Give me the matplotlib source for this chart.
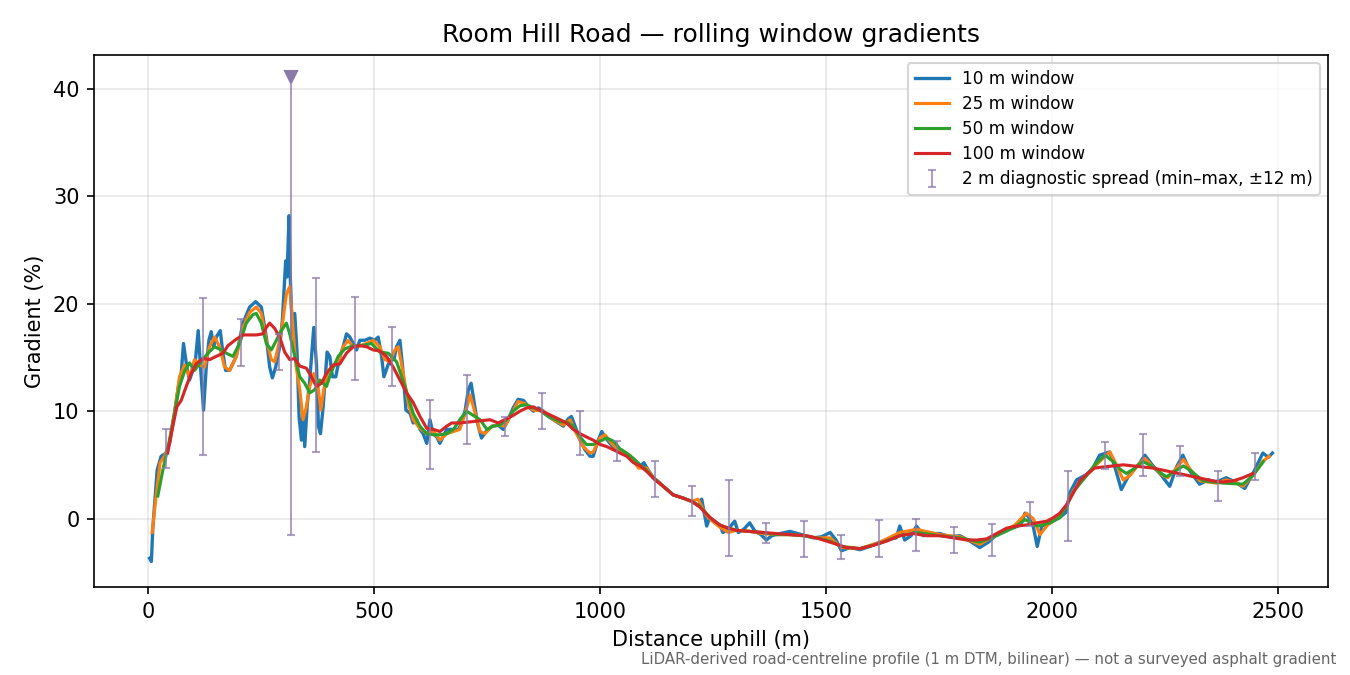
import matplotlib
matplotlib.use("Agg")
import matplotlib.pyplot as plt

# distances (m) and gradients (%), per window length
d10 = [4, 8, 11, 20.7, 29.5, 40.6, 48, 59, 68.7, 73.9, 79, 86.4, 92.3, 99.7, 105.6, 111.5,
       116.7, 123.3, 129.3, 135.2, 140.3, 145.5, 151.4, 160.3, 166.2, 172.1, 181, 195.7,
       210.5, 225.3, 238.6, 251.1, 262.2, 269.6, 275.5, 282.9, 291.7, 297.7, 305, 308,
       312.4, 315.4, 319.8, 325, 330.2, 334.6, 339.8, 343.4, 347.1, 352.3, 358.2, 367.1,
       373, 377.4, 381.9, 387.8, 396.6, 402.5, 408.5, 415.8, 423.2, 432.1, 439.5, 446.9,
       454.2, 461.6, 469, 480.1, 491.2, 502.2, 509.6, 517, 522.2, 529.6, 535.5, 544.3,
       550.3, 557.6, 563.6, 571, 580, 587, 595, 602, 609, 617, 624, 631, 639, 646, 653,
       661, 676, 687, 694, 702, 709, 715, 721, 729, 738, 748, 761, 775, 786, 797, 808, 819,
       831, 842, 853, 864, 875, 886, 897, 908, 919, 930, 937, 945, 956, 967, 978, 985, 996,
       1004, 1011, 1022, 1033, 1044, 1059, 1074, 1088, 1097, 1107, 1118, 1130, 1140, 1162,
       1184, 1203, 1217, 1225, 1236, 1243, 1255, 1265, 1272, 1285, 1298, 1306, 1318, 1331,
       1343, 1356, 1368, 1380, 1398, 1420, 1446, 1472, 1490, 1509, 1522, 1534, 1553, 1575,
       1597, 1619, 1641, 1655, 1663, 1674, 1688, 1700, 1715, 1733, 1752, 1774, 1796, 1818,
       1840, 1859, 1877, 1899, 1918, 1930, 1940, 1947, 1958, 1967, 1977, 1995, 2017, 2031,
       2039, 2054, 2076, 2090, 2105, 2127, 2138, 2153, 2168, 2194, 2205, 2223, 2242, 2260,
       2275, 2289, 2305, 2326, 2345, 2363, 2385, 2405, 2426, 2444, 2466, 2478, 2487]
g10 = [-3.7, -4.0, -1.0, 4.5, 5.8, 6.1, 7.0, 9.8, 12.6, 13.5, 16.3, 14.1, 12.9, 13.8, 14.8, 17.5,
       14.1, 10.1, 14.1, 16.6, 17.4, 16.0, 16.9, 17.5, 15.4, 13.8, 13.8, 15.1,
       18.2, 19.7, 20.2, 19.7, 16.9, 14.1, 13.1, 14.1, 16.0, 18.5, 24.0, 22.5,
       28.2, 22.2, 17.2, 19.1, 15.4, 9.5, 7.3, 9.8, 6.7, 10.4, 12.9, 17.8,
       14.4, 8.6, 7.9, 10.4, 15.5, 15.1, 13.2, 13.2, 14.8, 16.0, 17.2, 16.9,
       16.3, 15.7, 16.6, 16.6, 16.8, 16.6, 16.9, 15.1, 13.2, 14.1, 14.8, 14.8,
       16.0, 16.6, 14.1, 10.1, 9.8, 8.9, 9.2, 8.3, 7.9, 7.0, 9.2, 7.9, 7.6, 7.0, 7.6,
       8.3, 8.3, 8.3, 8.9, 10.1, 12.0, 12.6, 11.0, 8.9, 7.5, 8.1, 8.6, 8.7, 8.3, 9.2, 10.3, 11.1,
       11.0, 10.4, 10.0, 10.3, 10.0, 9.5, 9.2, 8.9, 8.6, 9.3, 9.5, 8.6, 7.3, 6.4, 5.8, 5.8, 7.3,
       8.1, 7.6, 7.0, 6.5, 6.2, 5.9, 5.5, 4.8, 5.2, 4.5, 3.8, 3.4, 3.0, 2.2,
       1.9, 1.6, 1.2, 1.8, -0.7, 0.1, -0.4, -0.6, -1.3, -0.9, -0.25, -1.3, -1.0, -0.4,
       -1.2, -1.5, -2.0, -1.6, -1.4, -1.2, -1.5, -1.8, -1.7, -1.3, -2.0, -3.0, -2.7, -2.9,
       -2.6, -2.2, -1.9, -1.8, -0.7, -2.0, -1.6, -0.7, -1.6, -1.4, -1.4, -1.7, -1.6, -2.1,
       -2.7, -2.2, -1.5, -1.0, -0.8, -0.6, 0.5, 0.2, -0.7, -2.6, -0.7, -0.4, 0.1, 0.6,
       2.4, 3.6, 4.1, 4.7, 5.9, 6.2, 4.9, 2.7, 3.9, 5.2, 5.9, 4.9, 4.0, 3.0,
       4.8, 5.9, 4.4, 3.2, 3.6, 3.4, 3.8, 3.4, 2.8, 4.2, 6.1, 5.7, 6.1]

d25 = [9.6, 18.5, 27.3, 36.9, 48, 59, 70.2, 81.2, 92.3, 103.4, 114.5, 125.6, 136.6, 147.7,
       158.8, 169.9, 181, 195.7, 210.5, 225.3, 240, 251.1, 262.2, 273.3, 280.7, 291.7,
       299.1, 306.5, 313.9, 319.8, 327.2, 336.1, 343.4, 350.8, 358.2, 367.1, 376.7, 382.6,
       389.2, 398.8, 409.9, 421, 432.1, 443.2, 454.2, 469, 483.8, 498.6, 513.3, 524.4,
       535.5, 546.6, 554, 565, 576.1, 587, 602, 617, 632, 646, 661, 676, 690, 702, 713, 724,
       735, 746, 761, 775, 790, 805, 819, 834, 853, 875, 897, 919, 934, 948, 963, 978, 985,
       1000, 1011, 1026, 1044, 1066, 1085, 1103, 1118, 1140, 1162, 1184, 1203, 1217, 1235,
       1250, 1265, 1284, 1302, 1331, 1360, 1391, 1420, 1450, 1479, 1509, 1534, 1575, 1619,
       1663, 1700, 1752, 1796, 1840, 1877, 1918, 1943, 1958, 1973, 1990, 2017, 2032, 2047,
       2076, 2098, 2117, 2128, 2142, 2157, 2172, 2190, 2205, 2223, 2245, 2256, 2275, 2290,
       2305, 2327, 2363, 2385, 2410, 2422, 2444, 2465, 2480]
g25 = [-1.3, 2.1, 5.2, 5.8, 7.0, 9.8, 13.2, 14.3, 13.2, 14.8, 14.3, 14.1, 16.0, 16.9,
       16.0, 14.1, 13.8, 15.1, 17.8, 19.2, 19.7, 19.1, 16.6, 14.8, 14.6, 16.6,
       18.5, 20.9, 21.6, 18.5, 14.4, 12.0, 9.2, 10.4, 12.3, 13.5, 12.3, 10.1,
       12.0, 13.8, 14.1, 14.6, 16.0, 16.6, 16.0, 16.1, 16.3, 16.6, 16.0, 14.8,
       14.6, 15.7, 16.0, 13.5, 10.7, 9.2, 8.4, 7.9, 8.1, 7.3, 7.9, 8.1, 8.3, 9.8, 11.5, 9.8,
       8.1, 7.9, 8.6, 8.7, 8.6, 9.8, 10.9, 10.7, 10.1, 10.0, 9.2, 8.7, 9.2, 7.9, 6.7, 6.1, 6.2,
       7.5, 7.8, 7.0, 6.2, 5.9, 4.7, 4.7, 3.8, 3.0, 2.2, 1.9, 1.6, 1.8, 0.3,
       -0.3, -0.8, -1.3, -1.1, -1.2, -1.4, -1.5, -1.5, -1.6, -1.8, -1.8, -2.7, -2.8, -2.2,
       -1.3, -1.0, -1.5, -1.7, -2.4, -1.5, -0.6, 0.5, 0.0, -1.5, -0.6, 0.2, 1.2, 2.6,
       4.0, 5.0, 5.8, 6.2, 5.0, 3.6, 4.0, 5.0, 5.6, 4.8, 4.0, 3.8, 4.7, 5.5,
       4.6, 3.5, 3.3, 3.6, 3.3, 3.0, 4.0, 5.3, 5.8]

d50 = [22.2, 33.2, 48, 59, 70.2, 81.2, 92.3, 103.4, 118, 133, 147.7, 162.5, 173.6, 188.3,
       203, 217.9, 232.6, 240, 251.1, 262.2, 273.3, 284.4, 295.4, 306.5, 313.9, 325,
       336.1, 347.1, 358.2, 369.3, 380.4, 395.2, 406.3, 421, 435.8, 454.2, 472.7, 495,
       513.3, 531.8, 550.3, 568.7, 587, 602, 617, 632, 646, 661, 676, 690, 705, 720, 735,
       750, 764, 779, 794, 808, 823, 838, 853, 867, 882, 897, 912, 926, 941, 956, 970, 985,
       1000, 1015, 1030, 1044, 1059, 1074, 1089, 1103, 1118, 1140, 1162, 1184, 1203, 1220,
       1243, 1265, 1284, 1302, 1331, 1360, 1391, 1420, 1450, 1479, 1509, 1534, 1575, 1619,
       1663, 1700, 1752, 1796, 1840, 1877, 1918, 1940, 1958, 1969, 1995, 2017, 2032, 2047,
       2076, 2098, 2117, 2135, 2150, 2164, 2180, 2201, 2220, 2245, 2253, 2275, 2290, 2305,
       2334, 2378, 2422, 2444, 2467]
g50 = [2.1, 4.5, 7.3, 9.8, 12.3, 13.7, 14.5, 13.8, 14.6, 15.4, 16.0, 15.7, 15.4, 15.1,
       16.3, 18.2, 19.0, 19.1, 18.2, 16.3, 15.7, 16.6, 17.5, 18.2, 17.2, 15.1,
       13.2, 12.6, 11.7, 12.0, 12.9, 12.3, 13.7, 15.1, 15.8, 16.1, 16.1, 16.3,
       15.5, 15.4, 14.6, 12.3, 9.8, 8.6, 7.9, 7.8, 7.8, 7.9, 8.3, 9.2, 10.0, 9.6, 9.2,
       8.3, 8.6, 8.7, 9.2, 10.0, 10.5, 10.6, 10.3, 10.1, 9.6, 9.3, 9.0, 9.0, 8.6, 7.6, 6.9, 6.9,
       7.2, 7.5, 7.2, 6.5, 6.1, 5.6, 5.0, 4.5, 3.8, 3.0, 2.2, 1.9, 1.6, 1.2,
       0.1, -0.6, -0.9, -1.1, -1.2, -1.3, -1.5, -1.5, -1.6, -1.8, -2.1, -2.6, -2.8, -2.3,
       -1.6, -1.3, -1.6, -1.8, -2.2, -1.6, -0.8, -0.1, -0.5, -0.7, -0.4, 0.1, 1.2, 2.5,
       4.0, 5.2, 5.9, 5.3, 4.6, 4.2, 4.6, 5.3, 4.9, 4.1, 3.9, 4.5, 4.9, 4.5,
       3.5, 3.3, 3.2, 4.0, 5.3]

d100 = [44, 55.4, 64.3, 73.9, 85, 96, 107.1, 121.9, 136.6, 151.4, 166.2, 177.3, 195.7,
        210.5, 225.3, 240, 254.8, 262.2, 269.6, 280.7, 291.7, 302.8, 313.9, 325, 336.1,
        350.8, 361.9, 373, 384.1, 395.2, 410, 424.7, 439.5, 454.2, 469, 483.8, 498.6,
        513.3, 528.1, 542.8, 557.6, 572.4, 587, 602, 617, 632, 646, 661, 672, 690, 713,
        735, 757, 775, 794, 808, 823, 838, 853, 867, 882, 897, 912, 926, 941, 956, 970, 985,
        1000, 1015, 1030, 1044, 1059, 1074, 1089, 1103, 1122, 1140, 1162, 1184, 1203,
        1220, 1243, 1265, 1284, 1302, 1331, 1360, 1391, 1420, 1457, 1486, 1516, 1545, 1575,
        1604, 1634, 1663, 1693, 1722, 1752, 1781, 1811, 1833, 1855, 1877, 1899, 1921, 1943,
        1966, 1988, 2002, 2017, 2032, 2047, 2061, 2076, 2094, 2113, 2135, 2157, 2179, 2201,
        2223, 2246, 2268, 2290, 2312, 2334, 2356, 2378, 2400, 2422, 2444]
g100 = [6.1, 8.6, 10.4, 11.0, 12.3, 13.5, 14.4, 14.9, 14.8, 15.1, 15.4, 16.1, 16.7,
        17.1, 17.1, 17.1, 17.2, 17.8, 18.2, 17.7, 16.9, 15.5, 14.8, 14.9, 14.2,
        14.0, 13.2, 12.3, 12.6, 13.5, 14.3, 14.4, 15.4, 16.0, 16.1, 16.0, 15.7,
        15.6, 15.1, 14.1, 12.9, 11.7, 10.8, 9.5, 8.4, 8.3, 8.1, 8.6, 8.9, 8.9, 9.0,
        9.1, 9.2, 8.9, 9.3, 9.6, 10.0, 10.3, 10.4, 10.1, 9.8, 9.5, 9.2, 8.9, 8.3, 7.9, 7.6, 7.3,
        6.9, 6.7, 6.4, 6.1, 5.8, 5.2, 4.9, 4.4, 3.6, 3.0, 2.2, 1.9, 1.6,
        1.1, 0.1, -0.6, -0.9, -1.1, -1.2, -1.3, -1.4, -1.5, -1.6, -1.9, -2.3, -2.7, -2.8,
        -2.5, -2.1, -1.6, -1.4, -1.6, -1.6, -1.8, -2.0, -2.0, -1.9, -1.4, -0.9, -0.7, -0.6,
        -0.4, -0.25, 0.06, 0.5, 1.3, 2.4, 3.5, 4.1, 4.7, 4.8, 4.9, 5.0, 4.9, 4.8,
        4.7, 4.5, 4.3, 4.1, 3.9, 3.7, 3.5, 3.4, 3.5, 3.8, 4.2]

# 2 m diagnostic spread (min / max within +-12 m)
bar_d = [40.6, 123, 207, 290, 373, 458, 539, 624, 705, 790, 872, 956, 1037, 1122, 1203,
         1286, 1368, 1452, 1534, 1618, 1700, 1783, 1867, 1951, 2034, 2117, 2200, 2282,
         2366, 2448]
bar_lo = [4.7, 5.9, 14.2, 13.8, 6.2, 12.9, 12.3, 4.6, 6.9, 7.7, 8.3, 5.9, 5.4, 2.0, 0.28,
          -3.5, -2.3, -3.6, -3.8, -3.6, -3.0, -3.2, -3.5, -0.65, -2.1, 4.6, 4.0, 4.0,
          1.6, 3.55]
bar_hi = [8.3, 20.5, 18.6, 17.2, 22.4, 20.6, 17.8, 11.0, 13.4, 9.5, 11.7, 10.0, 7.2, 5.4, 3.0,
          3.6, -0.46, -0.25, -1.5, -0.1, 0.0, -0.8, -0.47, 1.5, 4.4, 7.1, 7.9, 6.8,
          4.4, 6.1]
# worst spread, upper end runs off the chart
spike_d = 316
spike_lo = -1.5
spike_hi = 41.1

bar_color = '#8a7aaa'

fig, ax = plt.subplots(figsize=(9, 4.5), dpi=150)

ax.plot(d10, g10, color='tab:blue', lw=1.6, label='10 m window', zorder=2)
ax.plot(d25, g25, color='tab:orange', lw=1.5, label='25 m window', zorder=3)
ax.plot(d50, g50, color='tab:green', lw=1.5, label='50 m window', zorder=4)
ax.plot(d100, g100, color='tab:red', lw=1.5, label='100 m window', zorder=5)

mid = [(lo + hi) / 2 for lo, hi in zip(bar_lo, bar_hi)]
half = [(hi - lo) / 2 for lo, hi in zip(bar_lo, bar_hi)]
ax.errorbar(bar_d, mid, yerr=half, fmt='none', ecolor=bar_color, alpha=0.7,
            elinewidth=1, capsize=2, zorder=6,
            label='2 m diagnostic spread (min\u2013max, \u00b112 m)')
ax.errorbar([spike_d], [(spike_lo + spike_hi) / 2], yerr=[(spike_hi - spike_lo) / 2],
            fmt='none', ecolor=bar_color, alpha=0.7, elinewidth=1, capsize=0, zorder=6)
ax.plot([spike_d], [spike_lo], marker='_', ms=4, color=bar_color, alpha=0.7, zorder=6)
ax.plot([spike_d], [spike_hi], marker='v', ms=6, color=bar_color, ls='none', zorder=7)

ax.set_xlim(-119, 2610)
ax.set_ylim(-6.4, 43.2)
ax.set_xlabel('Distance uphill (m)')
ax.set_ylabel('Gradient (%)')
ax.set_title('Room Hill Road \u2014 rolling window gradients')
ax.grid(True, alpha=0.3)
ax.legend(loc='upper right', fontsize=8.1, labelspacing=0.42)

fig.text(0.99, 0.012,
         'LiDAR-derived road-centreline profile (1 m DTM, bilinear) \u2014 not a surveyed asphalt gradient',
         ha='right', va='bottom', fontsize=7.2, color='#666666')

fig.subplots_adjust(left=0.0696, right=0.9837, top=0.919, bottom=0.130)
fig.savefig('out.png', dpi=150)
